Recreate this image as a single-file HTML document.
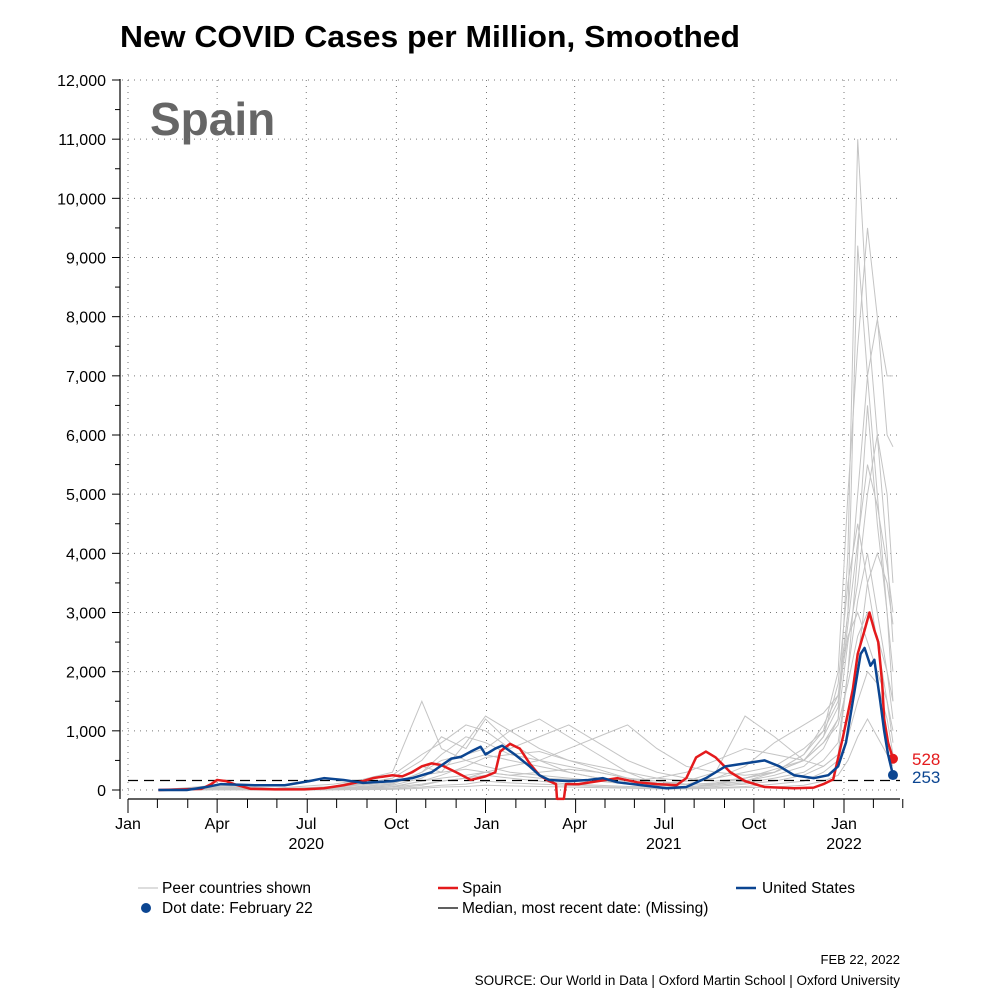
<!DOCTYPE html>
<html><head><meta charset="utf-8"><style>
body{margin:0;background:#fff;}
svg{display:block;font-family:"Liberation Sans",sans-serif;}
</style></head><body>
<svg id="chart" width="1000" height="1000" viewBox="0 0 1000 1000">
<text x="120" y="47" font-size="31" font-weight="bold" textLength="620" lengthAdjust="spacingAndGlyphs">New COVID Cases per Million, Smoothed</text>
<text x="150" y="135" font-size="46" font-weight="bold" fill="#666">Spain</text>
<g id="grid"></g><g id="peers"></g><g id="axes"></g><g id="series"></g>
<g font-size="15.5">
<line x1="138" y1="888" x2="158" y2="888" stroke="#bbb" stroke-width="1"/>
<text x="162" y="893">Peer countries shown</text>
<line x1="438" y1="888" x2="458" y2="888" stroke="#e41a1c" stroke-width="2.5"/>
<text x="462" y="893">Spain</text>
<line x1="736" y1="888" x2="756" y2="888" stroke="#0b4591" stroke-width="2.5"/>
<text x="762" y="893">United States</text>
<circle cx="146" cy="908" r="5" fill="#0b4591"/>
<text x="162" y="913">Dot date: February 22</text>
<line x1="438" y1="908" x2="458" y2="908" stroke="#000" stroke-width="1.2"/>
<text x="462" y="913">Median, most recent date: (Missing)</text>
</g>
<text x="900" y="964" font-size="13" text-anchor="end">FEB 22, 2022</text>
<text x="900" y="985" font-size="13.5" text-anchor="end">SOURCE: Our World in Data | Oxford Martin School | Oxford University</text>
</svg>
<script>
const yTicks=[0,1000,2000,3000,4000,5000,6000,7000,8000,9000,10000,11000,12000];
const monthLabels=["Jan","Apr","Jul","Oct","Jan","Apr","Jul","Oct","Jan"];
const monthDays=[0,91,182,274,366,456,547,639,731];
const yearLabels=["2020","2021","2022"];
const yearDays=[182,547,731];
const medianValue=160;
const spainDays=[31,75,85,91,100,110,125,150,180,200,220,240,250,270,280,290,300,310,320,335,350,365,375,380,390,400,410,420,430,437,438,445,447,460,480,500,520,540,550,560,570,580,590,600,615,630,650,680,700,710,720,730,740,745,752,757,762,766,770,772,776,781];
const spainVals=[0,20,100,170,150,90,20,10,10,30,80,150,200,250,230,300,400,450,420,300,170,230,300,650,780,700,450,250,150,100,-150,-150,100,100,150,200,130,100,90,80,200,550,650,550,300,150,50,30,40,100,180,900,1700,2300,2700,3000,2700,2500,1800,1200,800,528];
const usDays=[31,60,80,95,130,160,185,200,220,240,270,290,310,330,340,350,360,365,375,382,395,410,420,430,450,470,485,500,530,550,570,590,610,630,650,665,680,700,715,725,733,740,748,752,758,762,768,772,776,781];
const usVals=[0,0,50,100,80,80,150,200,170,120,150,200,300,530,560,650,730,600,700,750,600,400,250,170,150,170,200,130,70,30,50,200,400,450,500,400,250,200,250,400,800,1500,2300,2400,2100,2200,1500,1000,600,253];
const peerDays=[31,91,150,210,270,300,320,345,365,390,420,450,480,510,540,570,600,630,660,690,710,725,735,745,755,765,775,781];
const peer1=[0,60,20,60,300,1500,700,500,400,300,250,200,150,100,100,150,200,300,400,700,1000,1500,3000,9200,7000,5000,3000,1500];
const peer2=[0,40,10,30,200,500,900,700,1200,800,500,300,200,150,200,300,500,700,600,500,800,1200,4000,11000,8000,6000,4000,2500];
const peer3=[0,80,30,100,250,600,800,1100,1000,700,900,1100,800,500,300,200,150,200,300,600,1000,2000,5000,7500,9500,8000,6000,5800];
const peer4=[0,20,5,20,100,300,500,600,700,1000,1200,900,600,300,100,100,200,400,800,1100,1300,1600,3000,5000,7000,7950,7000,7000];
const peer5=[0,30,10,40,150,400,300,800,1250,1000,700,500,400,300,200,150,300,1250,900,500,400,600,2000,4000,6500,4500,3000,2000];
const peer6=[0,10,5,10,80,200,400,500,600,500,400,300,200,150,80,50,100,200,300,500,900,1800,3500,4500,3500,2500,1500,800];
const peer7=[0,50,20,50,120,250,300,350,300,250,300,350,300,200,100,100,100,150,250,400,700,1200,2500,3500,5000,6000,5000,3500];
const peer8=[0,15,5,10,60,150,200,250,300,250,200,180,160,120,80,60,80,120,200,300,500,800,2000,3200,4000,3000,2000,1200];
const peer9=[0,5,5,10,30,80,150,200,300,400,500,400,300,200,150,100,100,150,300,600,1100,1600,2600,3000,2500,2000,1500,1000];
const peer10=[0,20,10,20,50,100,150,200,250,200,150,100,80,60,50,40,60,100,150,250,400,600,1200,2200,3500,4000,3500,2800];
const peer11=[0,10,5,5,20,50,80,100,150,120,100,80,60,40,30,30,40,60,100,150,300,500,900,1500,2000,1800,1200,600];
const peer12=[0,5,2,5,10,30,50,60,80,70,60,50,40,30,20,20,30,40,50,80,150,250,500,900,1200,900,600,400];
const peer13=[0,30,15,30,100,300,600,900,800,600,500,700,900,1100,700,400,300,250,300,500,900,1400,2800,4200,5500,4800,3800,3000];
const peer14=[0,15,10,15,50,150,250,400,550,600,650,500,350,200,120,90,120,200,350,500,800,1100,1800,2600,3000,2600,2000,1500];
const peers=[peer1,peer2,peer3,peer4,peer5,peer6,peer7,peer8,peer9,peer10,peer11,peer12,peer13,peer14];

const X0=128, XPD=(844-128)/731, Y0=790, YPU=710/12000;
const xs=d=>X0+d*XPD, ys=v=>Y0-v*YPU;
const NS='http://www.w3.org/2000/svg';
function mk(tag,attrs,parent){const e=document.createElementNS(NS,tag);for(const k in attrs)e.setAttribute(k,attrs[k]);parent.appendChild(e);return e;}
const grid=document.getElementById('grid'),axes=document.getElementById('axes'),peersG=document.getElementById('peers'),series=document.getElementById('series');

yTicks.forEach(v=>{
  const g=mk('line',{x1:122,x2:900,y1:ys(v),y2:ys(v),stroke:'#777','stroke-width':1,'stroke-dasharray':'1 5'},grid);
  
  
  const t=mk('line',{x1:112,x2:120,y1:ys(v),y2:ys(v),stroke:'#000','stroke-width':1},axes);
  
  
  const l=mk('text',{x:106,y:ys(v)+6,'font-size':16,'text-anchor':'end'},axes);
  l.textContent=v.toLocaleString('en-US');
  
  
  if(v<12000){const m=mk('line',{x1:115,x2:120,y1:ys(v+500),y2:ys(v+500),stroke:'#000','stroke-width':1},axes);
  
  }
});
monthDays.forEach((d,i)=>{
  const g=mk('line',{x1:xs(d),x2:xs(d),y1:80,y2:797,stroke:'#777','stroke-width':1,'stroke-dasharray':'1 5'},grid);
  
  
  const l=mk('text',{x:xs(d),y:829,'font-size':16,'text-anchor':'middle'},axes);
  l.textContent=monthLabels[i];
  
  
});
for(let m=0;m<=26;m++){const d=Math.round(m*30.44);
  const t=mk('line',{x1:xs(d),x2:xs(d),y1:799,y2:m%3==0?813:808,stroke:'#000','stroke-width':1},axes);
  
  }
yearDays.forEach((d,i)=>{const l=mk('text',{x:xs(d),y:849,'font-size':16,'text-anchor':'middle'},axes);
  l.textContent=yearLabels[i];
  
  });
const ya=mk('line',{x1:120,x2:120,y1:79,y2:799,stroke:'#000','stroke-width':1.2},axes);


const xa=mk('line',{x1:128,x2:900,y1:799,y2:799,stroke:'#000','stroke-width':1.2},axes);



peers.forEach(p=>{
  const pl=mk('polyline',{points:p.map((v,i)=>xs(peerDays[i])+','+ys(v)).join(' '),fill:'none',stroke:'#c4c4c4','stroke-width':1},peersG);
  
  
});
const med=mk('line',{x1:128,x2:900,y1:ys(medianValue),y2:ys(medianValue),stroke:'#000','stroke-width':1.2,'stroke-dasharray':'10 6'},series);


function drawSeries(days,vals,color,name){
  const pl=mk('polyline',{points:vals.map((v,i)=>xs(days[i])+','+ys(v)).join(' '),fill:'none',stroke:color,'stroke-width':2.5,'stroke-linejoin':'round'},series);
  
  
  const n=vals.length-1;
  const c=mk('circle',{cx:xs(days[n]),cy:ys(vals[n]),r:5,fill:color},series);
  
  
  return [xs(days[n]),ys(vals[n])];
}
const s=drawSeries(spainDays,spainVals,'#e41a1c','spain');
const u=drawSeries(usDays,usVals,'#0b4591','us');
const sl=mk('text',{x:912,y:s[1]+6,'font-size':17,fill:'#e41a1c'},series);
sl.textContent=spainVals[spainVals.length-1];


const ul=mk('text',{x:912,y:u[1]+8,'font-size':17,fill:'#0b4591'},series);
ul.textContent=usVals[usVals.length-1];


</script>
</body></html>
